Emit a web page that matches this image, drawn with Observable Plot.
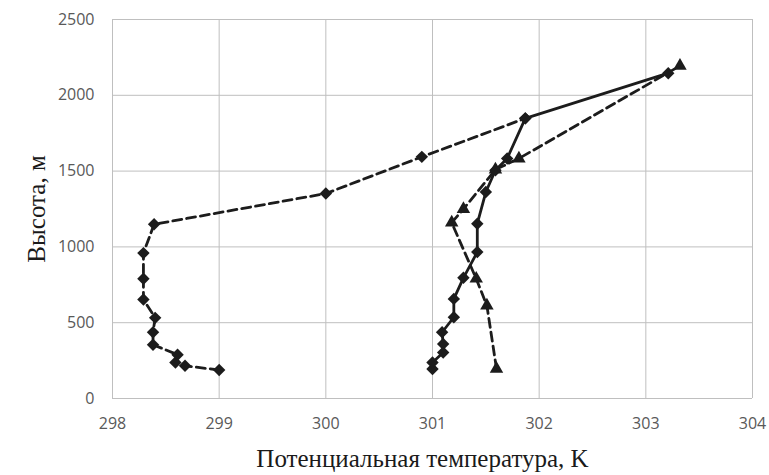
<!DOCTYPE html>
<html><head><meta charset="utf-8">
<script src="https://cdn.jsdelivr.net/npm/d3@7"></script>
<script src="https://cdn.jsdelivr.net/npm/@observablehq/plot@0.6"></script>
<style>body{margin:0;background:#fff}</style>
</head><body><div id="chart"></div>
<script>
const xTicks = [298, 299, 300, 301, 302, 303, 304];
const yTicks = [0, 500, 1000, 1500, 2000, 2500];
const xTitle = "Потенциальная температура, K";
const yTitle = "Высота, м";

// Series A: dashed line, diamonds
const tempA = [299.0, 298.68, 298.59, 298.61, 298.38, 298.38, 298.40, 298.29, 298.29, 298.29, 298.39, 300.0, 300.9, 301.87];
const heightA = [188, 216, 238, 289, 355, 437, 532, 653, 790, 959, 1149, 1352, 1594, 1848];
// Series B: solid line, diamonds
const tempB = [301.0, 301.0, 301.1, 301.1, 301.09, 301.2, 301.2, 301.29, 301.42, 301.42, 301.5, 301.59, 301.7, 301.87, 303.21];
const heightB = [194, 238, 304, 360, 437, 536, 657, 796, 966, 1153, 1362, 1506, 1583, 1848, 2146];
// Series C: dashed line, triangles
const tempC = [301.6, 301.51, 301.41, 301.18, 301.29, 301.59, 301.81, 303.32];
const heightC = [196, 613, 790, 1160, 1250, 1510, 1583, 2194];

const toRows = (t, h) => t.map((v, i) => ({t: v, h: h[i]}));
const A = toRows(tempA, heightA), B = toRows(tempB, heightB), C = toRows(tempC, heightC);
const ink = "#1c1c1c";

const chart = Plot.plot({
  width: 769, height: 475,
  marginLeft: 112, marginRight: 17, marginTop: 19, marginBottom: 77,
  style: {background: "#fff", fontFamily: "'Open Sans', sans-serif", fontSize: "16px", color: "#595959"},
  x: {domain: [298, 304]},
  y: {domain: [0, 2500]},
  marks: [
    Plot.gridX(xTicks, {stroke: "#bfbfbf", strokeOpacity: 1, strokeWidth: 1}),
    Plot.gridY(yTicks, {stroke: "#bfbfbf", strokeOpacity: 1, strokeWidth: 1}),
    Plot.axisX(xTicks, {tickSize: 0, tickPadding: 19, label: null, fontSize: 16, tickFormat: d => String(d)}),
    Plot.axisY(yTicks, {tickSize: 0, tickPadding: 18, label: null, fontSize: 16, tickFormat: d => String(d)}),
    Plot.line(A, {x: "t", y: "h", stroke: ink, strokeWidth: 2.8, strokeDasharray: "9,5"}),
    Plot.line(C, {x: "t", y: "h", stroke: ink, strokeWidth: 2.8, strokeDasharray: "9,5"}),
    Plot.line(B, {x: "t", y: "h", stroke: ink, strokeWidth: 2.8}),
    Plot.dot(A, {x: "t", y: "h", symbol: "diamond2", r: 5.6, fill: ink, stroke: "none"}),
    Plot.dot(B, {x: "t", y: "h", symbol: "diamond2", r: 5.6, fill: ink, stroke: "none"}),
    Plot.dot(C, {x: "t", y: "h", symbol: "triangle", r: 5, fill: ink, stroke: "none"}),
    Plot.text([xTitle], {text: d => d, frameAnchor: "bottom", textAnchor: "middle", lineAnchor: "middle", dx: -10, dy: 60, fontFamily: "'Liberation Serif', serif", fontSize: 25, fill: "#1a1a1a"}),
    Plot.text([yTitle], {text: d => d, frameAnchor: "left", textAnchor: "middle", lineAnchor: "middle", rotate: -90, dx: -76, fontFamily: "'Liberation Serif', serif", fontSize: 25, fill: "#1a1a1a"})
  ]
});
document.getElementById("chart").append(chart);
</script></body></html>
